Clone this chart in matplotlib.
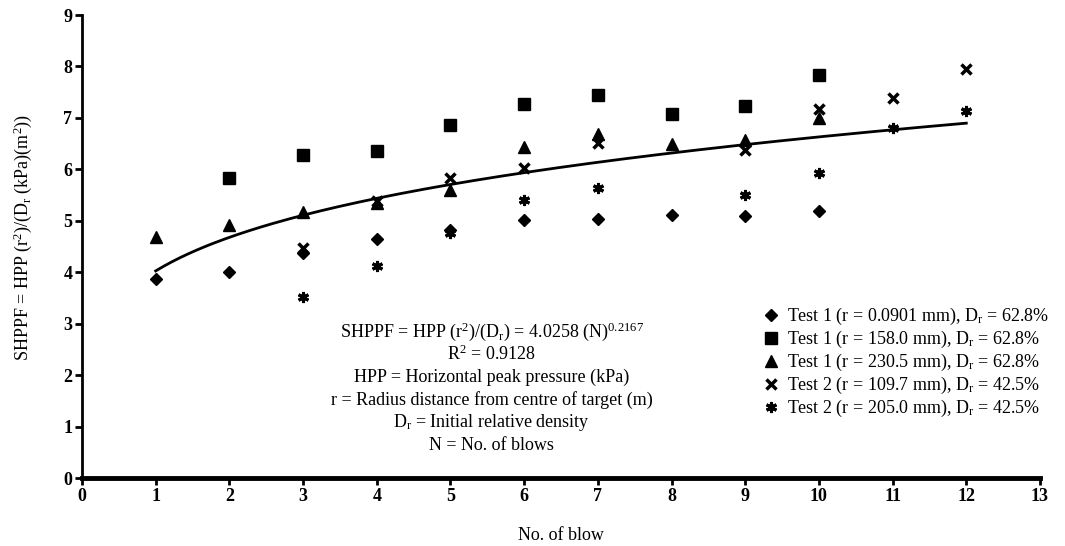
import matplotlib
matplotlib.use('Agg')
import matplotlib.pyplot as plt
import numpy as np

plt.rcParams['font.family'] = ['Liberation Serif', 'DejaVu Serif']
plt.rcParams['mathtext.fontset'] = 'custom'
plt.rcParams['mathtext.rm'] = 'Liberation Serif'
plt.rcParams['mathtext.it'] = 'Liberation Serif'
plt.rcParams['mathtext.bf'] = 'Liberation Serif:bold'
plt.rcParams['mathtext.default'] = 'regular'

# data
blows = [1, 2, 3, 4, 5, 6, 7, 8, 9, 10, 11, 12]
t1_r0901 = [3.86, 4.01, 4.37, 4.64, 4.82, 5.02, 5.04, 5.12, 5.10, 5.20, np.nan, np.nan]
t1_r158 = [np.nan, 5.83, 6.28, 6.36, 6.87, 7.27, 7.44, 7.08, 7.24, 7.83, np.nan, np.nan]
t1_r2305 = [4.68, 4.91, 5.18, 5.34, 5.59, 6.43, 6.68, 6.50, 6.58, 7.00, np.nan, np.nan]
t2_r1097 = [np.nan, np.nan, 4.47, 5.38, 5.83, 6.03, 6.52, np.nan, 6.38, 7.18, 7.39, 7.96]
t2_r205 = [np.nan, np.nan, 3.52, 4.13, 4.77, 5.41, 5.64, np.nan, 5.51, 5.93, 6.81, 7.13]

labels = ['Test 1 (r = 0.0901 mm), D$_r$ = 62.8%',
          'Test 1 (r = 158.0 mm), D$_r$ = 62.8%',
          'Test 1 (r = 230.5 mm), D$_r$ = 62.8%',
          'Test 2 (r = 109.7 mm), D$_r$ = 42.5%',
          'Test 2 (r = 205.0 mm), D$_r$ = 42.5%']

# power fit given on the chart
fit_a = 4.0258
fit_b = 0.2167

notes = ['SHPPF = HPP (r$^2$)/(D$_r$) = 4.0258 (N)$^{0.2167}$',
         'R$^2$ = 0.9128',
         'HPP = Horizontal peak pressure (kPa)',
         'r = Radius distance from centre of target (m)',
         'D$_r$ = Initial relative density',
         'N = No. of blows']

fig = plt.figure(figsize=(10.65, 5.46), dpi=100)
ax = fig.add_axes([0.077, 0.1245, 0.8995, 0.848])

ax.plot(blows, t1_r0901, 'D', color='black', markersize=6.5, label=labels[0], linestyle='none')
ax.plot(blows, t1_r158, 's', color='black', markersize=8, label=labels[1], linestyle='none')
ax.plot(blows, t1_r2305, '^', color='black', markersize=9, label=labels[2], linestyle='none')
ax.plot(blows, t2_r1097, 'x', color='black', markersize=6.5, markeredgewidth=2.5,
        label=labels[3], linestyle='none')
ax.plot(blows, t2_r205, marker=(6, 2, 0), color='black', markersize=8, markeredgewidth=2.2,
        label=labels[4], linestyle='none')

n = np.linspace(1, 12, 200)
ax.plot(n, fit_a * n ** fit_b, color='black', linewidth=2.0)

ax.set_xlim(0, 13)
ax.set_ylim(0, 9)
ax.set_xticks(range(0, 14))
ax.set_yticks(range(0, 10))

ax.spines['top'].set_visible(False)
ax.spines['right'].set_visible(False)
ax.spines['bottom'].set_linewidth(3.5)
ax.spines['left'].set_linewidth(2.0)
ax.tick_params(axis='both', direction='out', length=5, width=2, labelsize=13, pad=2)
for label in ax.get_xticklabels() + ax.get_yticklabels():
    label.set_fontweight('bold')

ax.set_xlabel('No. of blow', fontsize=13, labelpad=16)
ax.set_ylabel('SHPPF = HPP (r$^2$)/(D$_r$ (kPa)(m$^2$))', fontsize=13)
ax.yaxis.set_label_coords(-0.05, 0.52)

for i, note in enumerate(notes):
    ax.text(5.56, 2.84 - i * 0.44, note, fontsize=13, ha='center', va='center')

legend = ax.legend(loc='upper left', bbox_to_anchor=(0.707, 0.456),
                   bbox_transform=fig.transFigure, frameon=False, fontsize=13,
                   handlelength=1.0, handletextpad=0.4, labelspacing=0.1, borderpad=0)

plt.savefig('out.png', dpi=100)
